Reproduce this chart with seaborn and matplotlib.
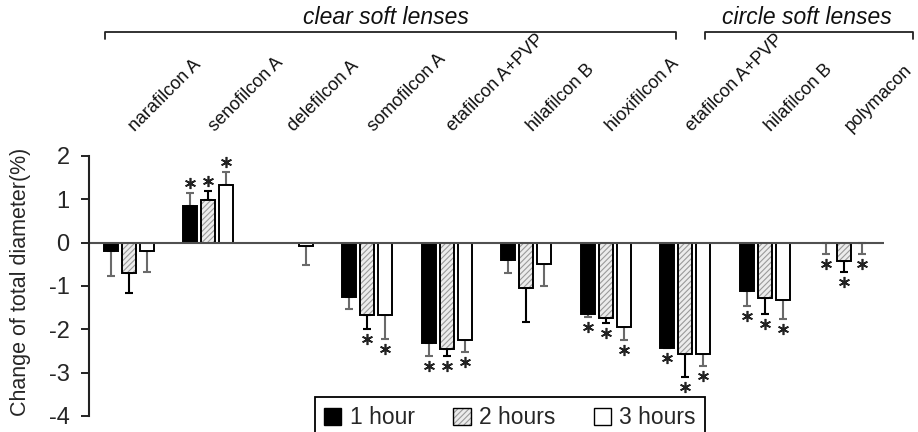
import numpy as np
import pandas as pd
import matplotlib
matplotlib.use("Agg")
import matplotlib.pyplot as plt
import matplotlib.transforms as mtransforms
from matplotlib.patches import Rectangle, Patch
from matplotlib.lines import Line2D
import seaborn as sns

# ---------------- data ----------------
lens_keys = ["narafilcon A", "senofilcon A", "delefilcon A", "somofilcon A",
             "etafilcon A+PVP (clear)", "hilafilcon B (clear)", "hioxifilcon A",
             "etafilcon A+PVP (circle)", "hilafilcon B (circle)", "polymacon"]
tick_labels = ["narafilcon A", "senofilcon A", "delefilcon A", "somofilcon A",
               "etafilcon A+PVP", "hilafilcon B", "hioxifilcon A",
               "etafilcon A+PVP", "hilafilcon B", "polymacon"]
times = ["1 hour", "2 hours", "3 hours"]

hour1 = [-0.20, 0.84, np.nan, -1.25, -2.32, -0.41, -1.64, -2.42, -1.12, 0.00]
hour2 = [-0.70, 0.98, np.nan, -1.66, -2.45, -1.05, -1.73, -2.58, -1.27, -0.42]
hour3 = [-0.20, 1.34, -0.07, -1.66, -2.25, -0.50, -1.94, -2.58, -1.33, 0.00]

err1 = [0.56, 0.30, np.nan, 0.27, 0.29, 0.29, 0.07, 0.02, 0.35, 0.27]
err2 = [0.46, 0.22, np.nan, 0.34, 0.16, 0.79, 0.13, 0.52, 0.38, 0.26]
err3 = [0.47, 0.30, 0.45, 0.57, 0.27, 0.50, 0.31, 0.27, 0.44, 0.26]

sig1 = [0, 1, 0, 0, 1, 0, 1, 1, 1, 1]
sig2 = [0, 1, 0, 1, 1, 0, 1, 1, 1, 1]
sig3 = [0, 1, 0, 1, 1, 0, 1, 1, 1, 1]

group_names = ["clear soft lenses", "circle soft lenses"]

values = [hour1, hour2, hour3]
errors = [err1, err2, err3]
sigs = [sig1, sig2, sig3]

rows = []
for t, vals in zip(times, values):
    for k, v in zip(lens_keys, vals):
        if not np.isnan(v):
            rows.append({"lens": k, "time": t, "value": v})
df = pd.DataFrame(rows)

# ---------------- style ----------------
sns.set_theme(style="white")
plt.rcParams["font.family"] = ["Liberation Sans", "DejaVu Sans"]
plt.rcParams["hatch.linewidth"] = 0.8
plt.rcParams["axes.unicode_minus"] = False

fill_colors = ["#000000", "#ececec", "#ffffff"]
err_colors = ["#6a6a6a", "#000000", "#6a6a6a"]

fig = plt.figure(figsize=(9.18, 4.32), dpi=100)
ax = fig.add_axes([89 / 918, 16 / 432, 795 / 918, 260 / 432])

sns.barplot(data=df, x="lens", y="value", hue="time", order=lens_keys,
            hue_order=times, palette=fill_colors, saturation=1,
            width=0.68, gap=0.22, edgecolor="black", linewidth=1.4,
            errorbar=None, legend=False, ax=ax, zorder=2)

bar_conts = list(ax.containers)

# hatch the 2-hour bars (grey hatch, black outline)
for bar in bar_conts[1]:
    bar.set_hatch("//////")
    bar.set_edgecolor("#9a9a9a")
    bar.set_linewidth(0)
    ax.add_patch(Rectangle(bar.get_xy(), bar.get_width(), bar.get_height(),
                           fill=False, edgecolor="black", linewidth=1.4, zorder=2.1))

# error bars + asterisks
for hi, cont in enumerate(bar_conts):
    for bar in cont:
        xc = bar.get_x() + bar.get_width() / 2
        ci = int(round(xc))
        v = values[hi][ci]
        e = errors[hi][ci]
        if np.isnan(v) or np.isnan(e):
            continue
        direction = 1 if v > 0 else -1
        yerr = [[0], [e]] if direction > 0 else [[e], [0]]
        ax.errorbar([xc], [v], yerr=yerr, fmt="none", ecolor=err_colors[hi],
                    elinewidth=1.5, capsize=3, capthick=1.5, zorder=1.5)
        if sigs[hi][ci]:
            tr = mtransforms.offset_copy(ax.transData, fig=fig,
                                         y=10 * direction, units="dots")
            ax.plot([xc], [v + direction * e], marker=(6, 2, 0), ms=8,
                    mew=1.2, color="#222222", linestyle="none", transform=tr,
                    zorder=3)

ax.axhline(0, color="#505050", linewidth=1.5, zorder=2.5)

ax.set_xlim(-0.5, len(lens_keys) - 0.5)
ax.set_ylim(-4, 2)
ax.set_yticks(range(-4, 3))
ax.set_xticks([])
ax.set_xlabel("")
ax.set_ylabel("Change of total diameter(%)", fontsize=15.5)
ax.yaxis.set_label_coords(-0.073, 0.515)

for s in ["top", "right", "bottom"]:
    ax.spines[s].set_visible(False)
ax.spines["left"].set_color("#222222")
ax.spines["left"].set_linewidth(1.5)
ax.tick_params(axis="y", direction="out", length=6, width=1.4, color="#222222",
               labelsize=17, pad=8, left=True)

# category labels on top
blend = mtransforms.blended_transform_factory(ax.transData, fig.transFigure)
for i, lab in enumerate(tick_labels):
    ax.text(i + 0.08, 1 - 132 / 432, lab, transform=blend, rotation=45,
            rotation_mode="anchor", ha="left", va="baseline", fontsize=13,
            color="#111111")

# group brackets
def bracket(x0, x1, y, yt):
    fig.add_artist(Line2D([x0 / 918, x0 / 918, x1 / 918, x1 / 918],
                          [1 - yt / 432, 1 - y / 432, 1 - y / 432, 1 - yt / 432],
                          color="#222222", linewidth=1.3))

bracket(105, 676, 32, 39)
bracket(705, 913, 32, 39)
fig.text(386 / 918, 1 - 17 / 432, group_names[0], ha="center", va="center",
         fontsize=16.5, style="italic", color="#111111")
fig.text(807 / 918, 1 - 17 / 432, group_names[1], ha="center", va="center",
         fontsize=16.5, style="italic", color="#111111")

# legend
h1 = Patch(facecolor=fill_colors[0], edgecolor="black", linewidth=1)
h2 = (Patch(facecolor=fill_colors[1], edgecolor="#9a9a9a", hatch="//////", linewidth=0),
      Patch(fill=False, edgecolor="black", linewidth=1))
h3 = Patch(facecolor=fill_colors[2], edgecolor="black", linewidth=1)
leg = fig.legend([h1, h2, h3], times, loc="upper center",
                 bbox_to_anchor=(510 / 918, 1 - 397 / 432), ncol=3,
                 frameon=True, fancybox=False, edgecolor="black", fontsize=16.5,
                 handlelength=0.75, handleheight=0.75, handletextpad=0.35,
                 columnspacing=1.7, borderpad=0.4, borderaxespad=0)
leg.get_frame().set_linewidth(1.3)
leg.get_frame().set_facecolor("white")
leg.get_frame().set_alpha(1)

fig.savefig("out.png", dpi=100)
